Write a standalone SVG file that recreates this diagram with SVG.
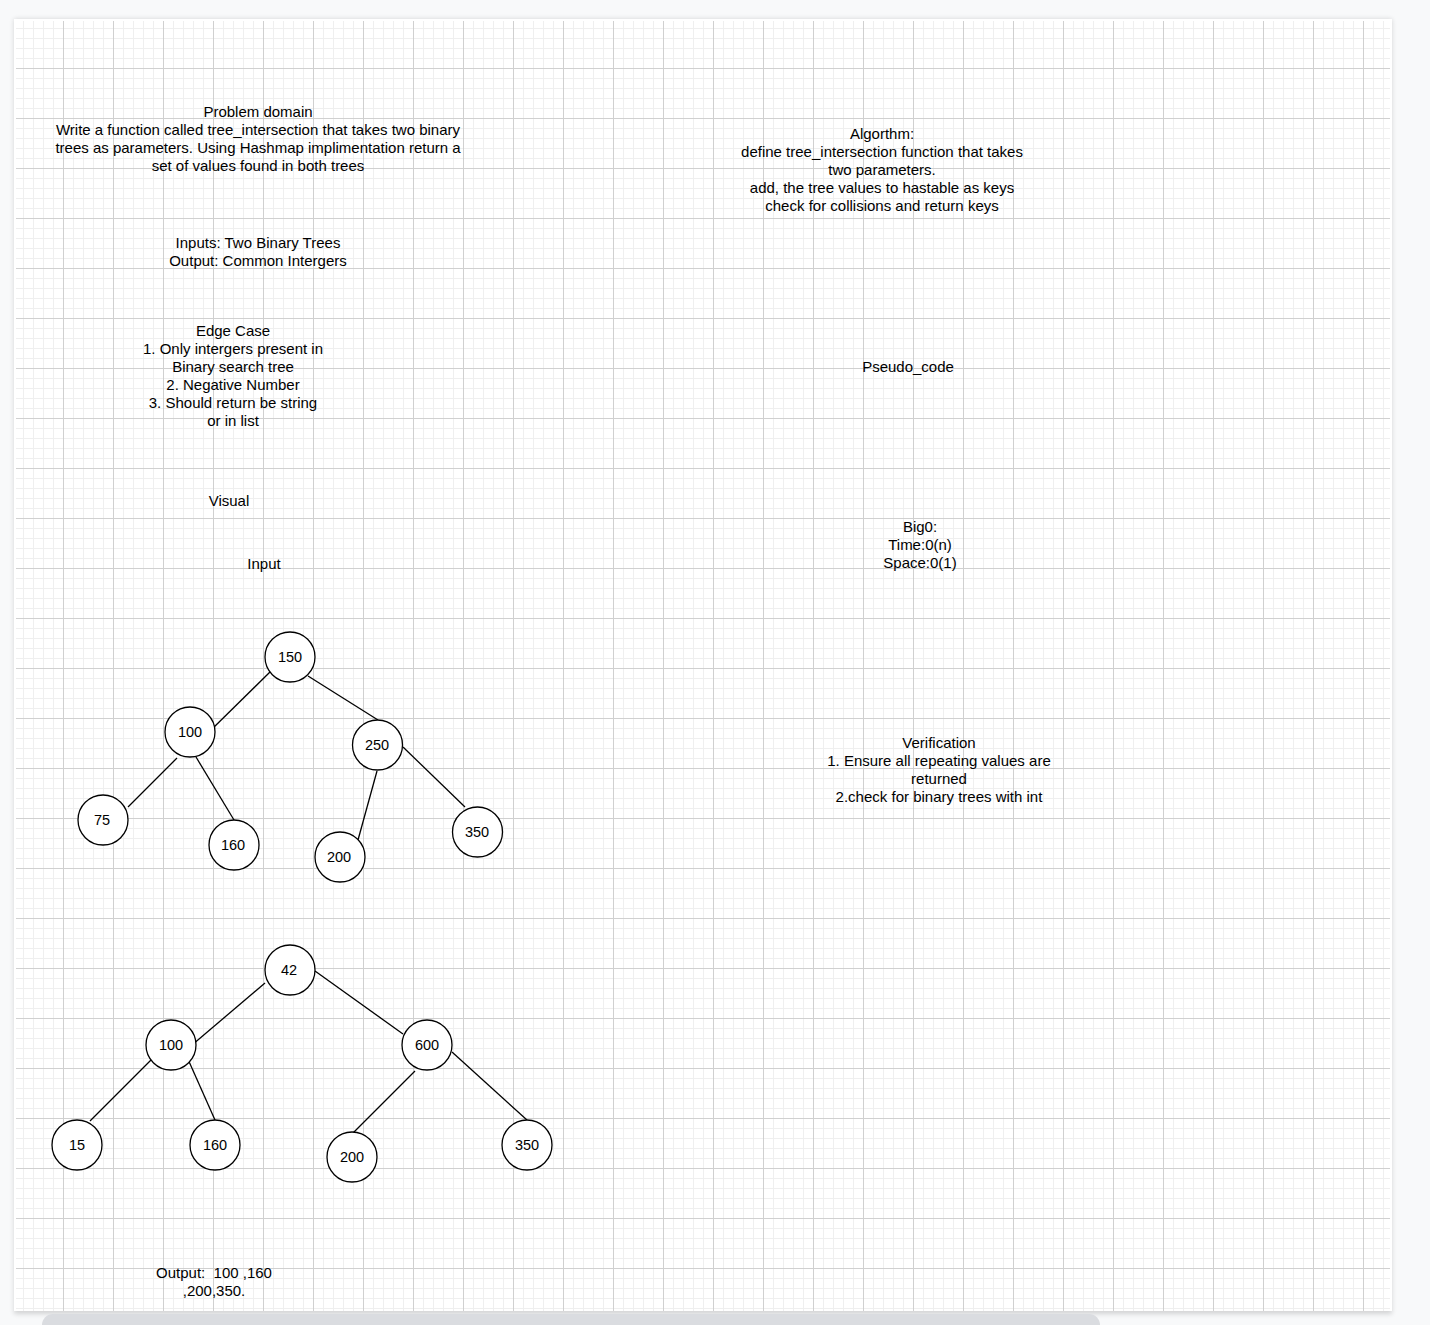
<svg xmlns="http://www.w3.org/2000/svg" width="1430" height="1325" viewBox="0 0 1430 1325">
<defs>
<pattern id="grid" patternUnits="userSpaceOnUse" x="14" y="19" width="50" height="50">
<rect x="9" y="0" width="1" height="50" fill="#efefef"/>
<rect x="19" y="0" width="1" height="50" fill="#efefef"/>
<rect x="29" y="0" width="1" height="50" fill="#efefef"/>
<rect x="39" y="0" width="1" height="50" fill="#efefef"/>
<rect x="0" y="9" width="50" height="1" fill="#efefef"/>
<rect x="0" y="19" width="50" height="1" fill="#efefef"/>
<rect x="0" y="29" width="50" height="1" fill="#efefef"/>
<rect x="0" y="39" width="50" height="1" fill="#efefef"/>
<rect x="49" y="0" width="1" height="50" fill="#d0d0d0"/>
<rect x="0" y="49" width="50" height="1" fill="#d0d0d0"/>
</pattern>
<filter id="shadow" x="-5%" y="-5%" width="110%" height="110%">
<feGaussianBlur stdDeviation="2.5"/>
</filter>
</defs>
<style>
text { font-family: "Liberation Sans", Arial, Helvetica, sans-serif; font-size: 15px; fill: #000; }
.c { text-anchor: middle; }
.node text { font-size: 14.5px; }
.node circle { fill: #fff; stroke: #000; stroke-width: 1.3; }
.edges line { stroke: #000; stroke-width: 1.3; }
</style>
<rect x="0" y="0" width="1430" height="1325" fill="#f8f9fa"/>
<rect x="14" y="19" width="1378" height="1295" fill="#000" opacity="0.15" filter="url(#shadow)"/>
<rect x="14" y="19" width="1378" height="1292" fill="#fff"/>
<rect x="16" y="21" width="1374" height="1290" fill="url(#grid)"/>
<rect x="42" y="1314" width="1058" height="24" rx="11" fill="#dadce0"/>

<g id="problem-domain">
<text class="c" x="258" y="117">Problem domain</text>
<text class="c" x="258" y="135">Write a function called tree_intersection that takes two binary</text>
<text class="c" x="258" y="153">trees as parameters. Using Hashmap implimentation return a</text>
<text class="c" x="258" y="171">set of values found in both trees</text>
</g>
<g id="inputs-outputs">
<text class="c" x="258" y="248">Inputs: Two Binary Trees</text>
<text class="c" x="258" y="266">Output: Common Intergers</text>
</g>
<g id="edge-case">
<text class="c" x="233" y="336">Edge Case</text>
<text class="c" x="233" y="354">1. Only intergers present in</text>
<text class="c" x="233" y="372">Binary search tree</text>
<text class="c" x="233" y="390">2. Negative Number</text>
<text class="c" x="233" y="408">3. Should return be string</text>
<text class="c" x="233" y="426">or in list</text>
</g>
<g id="visual"><text class="c" x="229" y="506">Visual</text></g>
<g id="input"><text class="c" x="264" y="569">Input</text></g>
<g id="algorithm">
<text class="c" x="882" y="139">Algorthm:</text>
<text class="c" x="882" y="157">define tree_intersection function that takes</text>
<text class="c" x="882" y="175">two parameters.</text>
<text class="c" x="882" y="193">add, the tree values to hastable as keys</text>
<text class="c" x="882" y="211">check for collisions and return keys</text>
</g>
<g id="pseudo-code"><text class="c" x="908" y="372">Pseudo_code</text></g>
<g id="big-o">
<text class="c" x="920" y="532">Big0:</text>
<text class="c" x="920" y="550">Time:0(n)</text>
<text class="c" x="920" y="568">Space:0(1)</text>
</g>
<g id="verification">
<text class="c" x="939" y="748">Verification</text>
<text class="c" x="939" y="766">1. Ensure all repeating values are</text>
<text class="c" x="939" y="784">returned</text>
<text class="c" x="939" y="802">2.check for binary trees with int</text>
</g>
<g id="output">
<text class="c" x="214" y="1278" xml:space="preserve">Output:  100 ,160</text>
<text class="c" x="214" y="1296">,200,350.</text>
</g>

<g class="edges" id="connectors">
<line x1="271" y1="671" x2="209" y2="732"/>
<line x1="308" y1="676" x2="378" y2="720"/>
<line x1="177" y1="758" x2="128" y2="807"/>
<line x1="196" y1="757" x2="234" y2="820"/>
<line x1="377" y1="771" x2="358" y2="840"/>
<line x1="403" y1="747" x2="465" y2="807"/>
<line x1="265" y1="983" x2="192" y2="1045"/>
<line x1="315" y1="971" x2="403" y2="1034"/>
<line x1="153" y1="1058" x2="90" y2="1121"/>
<line x1="187" y1="1057" x2="215" y2="1120"/>
<line x1="415" y1="1071" x2="353" y2="1133"/>
<line x1="452" y1="1052" x2="527" y2="1120"/>
</g>

<g class="node" id="t1-150"><circle cx="290" cy="657" r="25"/><text class="c" x="290" y="662">150</text></g>
<g class="node" id="t1-100"><circle cx="190" cy="732" r="25"/><text class="c" x="190" y="737">100</text></g>
<g class="node" id="t1-250"><circle cx="377.5" cy="745" r="25"/><text class="c" x="377" y="750">250</text></g>
<g class="node" id="t1-75"><circle cx="103" cy="820" r="25"/><text class="c" x="102" y="825">75</text></g>
<g class="node" id="t1-160"><circle cx="234" cy="845" r="25"/><text class="c" x="233" y="850">160</text></g>
<g class="node" id="t1-200"><circle cx="340" cy="857" r="25"/><text class="c" x="339" y="862">200</text></g>
<g class="node" id="t1-350"><circle cx="477.5" cy="832" r="25"/><text class="c" x="477" y="837">350</text></g>

<g class="node" id="t2-42"><circle cx="290" cy="970" r="25"/><text class="c" x="289" y="975">42</text></g>
<g class="node" id="t2-100"><circle cx="171" cy="1045" r="25"/><text class="c" x="171" y="1050">100</text></g>
<g class="node" id="t2-600"><circle cx="427" cy="1045" r="25"/><text class="c" x="427" y="1050">600</text></g>
<g class="node" id="t2-15"><circle cx="77" cy="1145" r="25"/><text class="c" x="77" y="1150">15</text></g>
<g class="node" id="t2-160"><circle cx="215" cy="1145" r="25"/><text class="c" x="215" y="1150">160</text></g>
<g class="node" id="t2-200"><circle cx="352" cy="1157" r="25"/><text class="c" x="352" y="1162">200</text></g>
<g class="node" id="t2-350"><circle cx="527" cy="1145" r="25"/><text class="c" x="527" y="1150">350</text></g>
</svg>
